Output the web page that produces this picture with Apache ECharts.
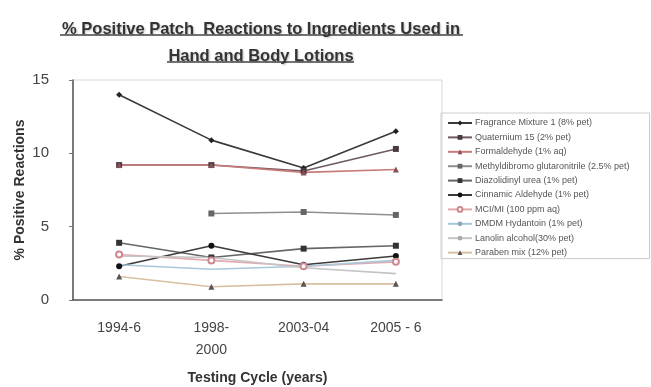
<!DOCTYPE html>
<html>
<head>
<meta charset="utf-8">
<script src="https://cdn.jsdelivr.net/npm/echarts@6/dist/echarts.min.js"></script>
<style>
  html, body { margin: 0; padding: 0; background: #fff; }
  #chart { width: 651px; height: 387px; }
</style>
</head>
<body>
<div id="chart"></div>
<script>
// Testing cycles on the category axis
const cycles = ['1994-6', '1998-\n2000', '2003-04', '2005 - 6'];
const yTicks = [0, 5, 10, 15];

// % positive patch reactions per allergen and testing cycle
const fragranceMix = [14.0, 10.9, 9.0, 11.5];
const quaternium15 = [9.2, 9.2, 8.8, 10.3];
const formaldehyde = [9.2, 9.2, 8.7, 8.9];
const methyldibromo = [null, 5.9, 6.0, 5.8];
const diazolidinylUrea = [3.9, 2.9, 3.5, 3.7];
const cinnamicAldehyde = [2.3, 3.7, 2.4, 3.0];
const mciMi = [3.1, 2.7, 2.3, 2.6];
const dmdmHydantoin = [2.4, 2.1, 2.3, 2.7];
const lanolinAlcohol = [3.0, 2.9, 2.2, 1.8];
const parabenMix = [1.6, 0.9, 1.1, 1.1];

const seriesNames = [
  'Fragrance Mixture 1 (8% pet)',
  'Quaternium 15 (2% pet)',
  'Formaldehyde (1% aq)',
  'Methyldibromo glutaronitrile (2.5% pet)',
  'Diazolidinyl urea (1% pet)',
  'Cinnamic Aldehyde (1% pet)',
  'MCI/MI (100 ppm aq)',
  'DMDM Hydantoin (1% pet)',
  'Lanolin alcohol(30% pet)',
  'Paraben mix (12% pet)'
];
const seriesData = [fragranceMix, quaternium15, formaldehyde, methyldibromo,
  diazolidinylUrea, cinnamicAldehyde, mciMi, dmdmHydantoin, lanolinAlcohol, parabenMix];

// line colour, marker colour, marker shape
const looks = [
  ['#3a3a3a', '#222', 'diamond'],
  ['#6e5a62', '#4a3a40', 'rect'],
  ['#c97a78', '#8a5058', 'triangle'],
  ['#8f8f8f', '#666', 'rect'],
  ['#666', '#333', 'rect'],
  ['#3b3b3b', '#111', 'circle'],
  ['#e2a9ae', '#d08890', 'emptyCircle'],
  ['#a9c8da', '#8aa8bb', 'none'],
  ['#c4c4c4', '#aaa', 'none'],
  ['#d9bfa2', '#555', 'triangle']
];

const series = seriesNames.map((name, i) => ({
  name,
  type: 'line',
  data: seriesData[i],
  symbol: looks[i][2],
  symbolSize: 6,
  connectNulls: false,
  lineStyle: { color: looks[i][0], width: 1.6 },
  itemStyle: { color: looks[i][1] },
  emphasis: { disabled: true }
}));

const font = 'Liberation Sans, Arial, sans-serif';

const chart = echarts.init(document.getElementById('chart'));
chart.setOption({
  animation: false,
  backgroundColor: '#fff',
  title: {
    text: '% Positive Patch  Reactions to Ingredients Used in\nHand and Body Lotions',
    left: 256,
    top: 11,
    textAlign: 'center',
    textStyle: {
      fontFamily: font,
      fontSize: 16.5,
      fontWeight: 'bold',
      color: '#333',
      lineHeight: 27,
      textShadowColor: 'rgba(0,0,0,0.25)',
      textShadowBlur: 2,
      textShadowOffsetX: 1,
      textShadowOffsetY: 1
    }
  },
  graphic: [
    { type: 'line', shape: { x1: 60, y1: 35, x2: 463, y2: 35 }, style: { stroke: '#444', lineWidth: 1.5 } },
    { type: 'line', shape: { x1: 167, y1: 62, x2: 354, y2: 62 }, style: { stroke: '#444', lineWidth: 1.5 } }
  ],
  grid: {
    left: 73, right: 209, top: 80, bottom: 87,
    outerBoundsMode: 'none',
    containLabel: false,
    show: true, borderColor: '#d8d8d8', borderWidth: 1
  },
  legend: {
    orient: 'vertical',
    left: 441,
    top: 113,
    padding: [5, 20, 1, 6],
    itemWidth: 24,
    itemHeight: 6,
    itemGap: 4.4,
    borderColor: '#ccc',
    borderWidth: 1,
    textStyle: { fontSize: 9, lineHeight: 10, color: '#555', fontFamily: font, padding: [0, 0, 0, -2] },
    data: seriesNames
  },
  xAxis: {
    type: 'category',
    data: cycles,
    boundaryGap: true,
    name: 'Testing Cycle (years)',
    nameLocation: 'middle',
    nameGap: 71,
    nameMoveOverlap: false,
    nameTextStyle: { fontSize: 14, fontWeight: 'bold', color: '#333', fontFamily: font },
    axisLine: { lineStyle: { color: '#555', width: 1.5 } },
    axisTick: { show: false },
    axisLabel: { fontSize: 14, color: '#444', margin: 17, lineHeight: 22, fontFamily: font }
  },
  yAxis: {
    type: 'value',
    min: yTicks[0],
    max: yTicks[yTicks.length - 1],
    interval: yTicks[1] - yTicks[0],
    name: '% Positive Reactions',
    nameLocation: 'middle',
    nameGap: 46,
    nameMoveOverlap: false,
    nameTextStyle: { fontSize: 14, fontWeight: 'bold', color: '#333', fontFamily: font },
    axisLine: { show: true, lineStyle: { color: '#555', width: 1.5 } },
    axisTick: { show: true, length: 4, lineStyle: { color: '#777' } },
    splitLine: { show: false },
    axisLabel: { fontSize: 15, color: '#444', margin: 24, fontFamily: font }
  },
  series
});
</script>
</body>
</html>
